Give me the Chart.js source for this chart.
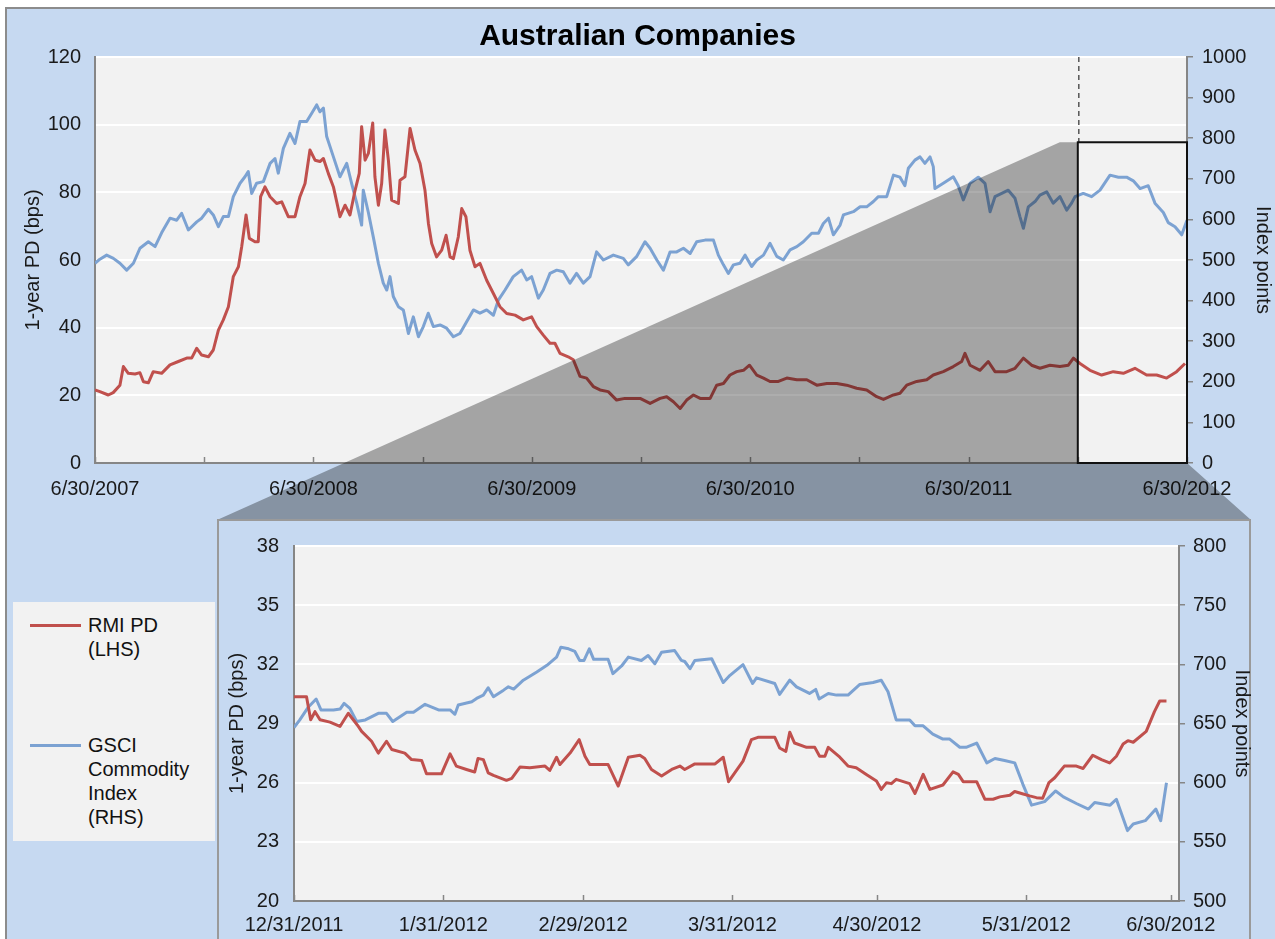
<!DOCTYPE html>
<html>
<head>
<meta charset="utf-8">
<script src="https://cdn.jsdelivr.net/npm/chart.js@4/dist/chart.umd.min.js"></script>
<style>
body { margin: 0; width: 1275px; height: 939px; overflow: hidden; background: #fff; font-family: "Liberation Sans", Arial, sans-serif; }
#mainCanvas { position: absolute; left: 0; top: 0; }
#chartTitle { position: absolute; left: 0; top: 17px; width: 1275px; text-align: center; font-weight: bold; font-size: 30px; line-height: 36px; color: #000; z-index: 2; }
#legendBox { position: absolute; left: 13px; top: 602px; width: 202px; height: 239px; background: #f2f2f2; z-index: 2; }
.legLine { position: absolute; left: 17px; width: 51px; height: 3px; }
.legText { position: absolute; left: 75px; font-size: 20px; line-height: 24px; color: #111; white-space: nowrap; }
#insetFrame { position: absolute; left: 217px; top: 519px; width: 1034px; height: 440px; box-sizing: border-box; background: #c6d9f1; border: 2px solid #9a9a9a; z-index: 3; }
#insetCanvas { position: absolute; left: 217px; top: 519px; z-index: 4; }
</style>
</head>
<body>
<canvas id="mainCanvas" width="1275" height="939"></canvas>
<div id="chartTitle">Australian Companies</div>
<div id="legendBox">
  <div class="legLine" style="top:22px;background:#c0504d"></div>
  <div class="legText" style="top:11px">RMI PD<br>(LHS)</div>
  <div class="legLine" style="top:142px;background:#7ca2d2"></div>
  <div class="legText" style="top:131px">GSCI<br>Commodity<br>Index<br>(RHS)</div>
</div>
<div id="insetFrame"></div>
<canvas id="insetCanvas" width="1058" height="420"></canvas>
<script>
// main chart: x = months after 6/30/2007
const topTickMonths = [0, 6, 12, 18, 24, 30, 36, 42, 48, 54, 60];
const topTickLabels = ['6/30/2007', '6/30/2008', '6/30/2009', '6/30/2010', '6/30/2011', '6/30/2012'];

// RMI PD, 1-year PD in bps (left axis)
const pdMonths = [0, 0.27, 0.73, 1.0, 1.37, 1.56, 1.83, 2.2, 2.47, 2.66, 2.93, 3.2, 3.66, 4.12, 4.58, 5.04, 5.31, 5.59, 5.86, 6.23,
  6.5, 6.78, 7.05, 7.33, 7.6, 7.88, 8.06, 8.3, 8.48, 8.79, 8.97, 9.1, 9.34, 9.62, 9.98, 10.26, 10.62, 10.99, 11.26, 11.54,
  11.81, 12.09, 12.36, 12.55, 12.82, 13.1, 13.46, 13.74, 14.01, 14.29, 14.52, 14.65, 14.84, 15.02, 15.26, 15.38, 15.57, 15.75, 15.93, 16.12,
  16.3, 16.67, 16.76, 17.03, 17.31, 17.58, 17.86, 18.13, 18.32, 18.5, 18.77, 19.05, 19.29, 19.51, 19.69, 19.96, 20.15, 20.38, 20.6, 20.88,
  21.15, 21.52, 21.89, 22.25, 22.62, 23.08, 23.53, 23.99, 24.27, 24.63, 25.0, 25.27, 25.55, 26.0, 26.28, 26.65, 27.01, 27.38, 27.75, 28.2,
  28.66, 29.12, 29.4, 29.95, 30.5, 31.05, 31.41, 31.78, 32.15, 32.51, 32.88, 33.25, 33.8, 34.16, 34.53, 34.89, 35.26, 35.63, 35.96, 36.36,
  36.73, 37.09, 37.55, 38.01, 38.56, 39.11, 39.66, 40.21, 40.76, 41.3, 41.85, 42.4, 42.95, 43.32, 43.87, 44.23, 44.6, 45.15, 45.7, 46.06,
  46.61, 47.16, 47.62, 47.8, 48.08, 48.63, 49.08, 49.45, 50.09, 50.55, 51.01, 51.46, 51.92, 52.47, 53.02, 53.48, 53.76, 54.12, 54.67, 55.31,
  55.95, 56.5, 57.14, 57.78, 58.33, 58.88, 59.43, 59.89];
const pdValues = [21.6, 21.1, 20.1, 20.8, 23.0, 28.5, 26.5, 26.3, 26.7, 24.0, 23.7, 27.0, 26.5, 29.0, 30.0, 31.0, 31.0, 33.9, 31.9, 31.4,
  33.4, 39.3, 42.3, 46.2, 55.1, 58.0, 63.9, 73.3, 66.4, 65.4, 65.4, 78.7, 81.6, 78.7, 76.7, 77.2, 72.8, 72.8, 78.7, 82.6,
  92.5, 89.5, 89.1, 90.0, 85.6, 81.6, 72.8, 76.2, 73.3, 80.6, 85.6, 99.4, 89.5, 91.5, 100.5, 84.6, 76.2, 82.6, 98.4, 89.5,
  77.7, 76.7, 83.6, 84.6, 98.9, 92.5, 88.5, 80.6, 70.8, 64.9, 60.9, 62.9, 67.3, 60.9, 60.4, 66.8, 75.2, 72.8, 62.9, 58.0,
  59.0, 54.0, 50.1, 46.2, 44.2, 43.7, 42.3, 43.2, 40.3, 37.8, 35.4, 35.4, 32.4, 31.4, 30.5, 25.6, 25.1, 22.6, 21.6, 21.1,
  18.6, 19.1, 19.1, 19.1, 17.6, 19.1, 19.6, 18.1, 16.1, 18.6, 20.1, 19.1, 19.1, 23.0, 23.5, 26.0, 27.0, 27.4, 28.9, 26.0,
  25.1, 24.1, 24.1, 25.1, 24.6, 24.6, 23.0, 23.5, 23.5, 23.0, 22.1, 21.6, 19.6, 18.8, 20.1, 20.6, 23.0, 24.1, 24.6, 26.0,
  27.0, 28.5, 30.0, 32.4, 28.9, 27.4, 30.0, 27.0, 27.0, 28.0, 31.0, 28.9, 28.0, 28.9, 28.5, 28.9, 31.0, 29.4, 27.4, 26.0,
  27.0, 26.5, 28.0, 26.0, 26.0, 25.1, 27.0, 29.4];

// GSCI Commodity Index, index points (right axis)
const gsciMonths = [0, 0.27, 0.64, 1.01, 1.37, 1.74, 2.11, 2.47, 2.93, 3.3, 3.66, 4.12, 4.49, 4.76, 5.13, 5.59, 5.86, 6.23, 6.5, 6.78,
  7.05, 7.33, 7.6, 7.97, 8.24, 8.42, 8.61, 8.88, 9.25, 9.62, 9.89, 10.07, 10.35, 10.71, 10.99, 11.26, 11.63, 11.9, 12.18, 12.36,
  12.55, 12.73, 13.1, 13.46, 13.83, 14.1, 14.38, 14.65, 14.74, 15.02, 15.29, 15.57, 15.84, 16.03, 16.21, 16.39, 16.67, 16.94, 17.22, 17.49,
  17.77, 18.04, 18.31, 18.59, 18.96, 19.32, 19.69, 20.05, 20.42, 20.79, 21.15, 21.52, 21.89, 22.16, 22.53, 22.98, 23.44, 23.72, 23.99, 24.36,
  24.63, 25.0, 25.37, 25.73, 26.1, 26.46, 26.83, 27.2, 27.56, 27.93, 28.48, 29.03, 29.3, 29.77, 30.22, 30.5, 30.87, 31.23, 31.6, 31.96,
  32.33, 32.7, 33.06, 33.52, 33.98, 34.25, 34.53, 34.8, 35.08, 35.44, 35.72, 36.08, 36.36, 36.73, 37.09, 37.46, 37.82, 38.19, 38.56, 38.92,
  39.38, 39.75, 40.02, 40.3, 40.57, 40.94, 41.12, 41.67, 42.04, 42.4, 42.77, 43.04, 43.5, 43.87, 44.23, 44.5, 44.69, 45.05, 45.33, 45.6,
  45.88, 46.06, 46.15, 46.61, 47.16, 47.43, 47.71, 48.08, 48.53, 48.9, 49.18, 49.45, 49.82, 50.18, 50.55, 50.82, 51.01, 51.28, 51.65, 51.92,
  52.29, 52.65, 53.02, 53.39, 53.66, 53.85, 54.3, 54.76, 55.22, 55.77, 56.23, 56.68, 57.05, 57.42, 57.87, 58.24, 58.7, 58.97, 59.34, 59.71, 60.0];
const gsciValues = [492, 502, 512, 504, 492, 475, 492, 529, 545, 533, 567, 603, 598, 615, 574, 594, 603, 625, 611, 582,
  607, 607, 656, 689, 705, 718, 664, 689, 693, 738, 750, 714, 775, 812, 787, 841, 841, 861, 882, 865,
  874, 804, 754, 705, 738, 689, 640, 586, 672, 617, 557, 492, 443, 426, 459, 410, 385, 377, 319, 360,
  311, 336, 369, 336, 340, 332, 311, 319, 348, 377, 369, 377, 364, 401, 426, 459, 475, 451, 459, 406,
  426, 467, 475, 471, 443, 467, 443, 459, 520, 500, 512, 504, 488, 509, 545, 529, 500, 475, 520, 520,
  529, 516, 545, 549, 549, 512, 488, 467, 488, 492, 512, 484, 500, 512, 541, 509, 500, 525, 533, 545,
  566, 566, 590, 603, 562, 586, 611, 619, 631, 631, 644, 656, 656, 709, 704, 683, 726, 746, 754, 738,
  754, 730, 676, 689, 705, 683, 648, 689, 704, 689, 619, 656, 664, 672, 652, 607, 578, 631, 644, 660,
  668, 640, 656, 623, 640, 656, 664, 656, 672, 709, 704, 704, 695, 676, 683, 640, 617, 592, 582, 562, 598];

// zoomed window shown in the inset
const zoomStartMonth = 54;
const zoomEndMonth = 60;
const zoomTopIndex = 790;

// inset chart: x = days after 12/31/2011
const insetTickDays = [0, 31, 60, 91, 121, 152, 182];
const insetTickLabels = ['12/31/2011', '1/31/2012', '2/29/2012', '3/31/2012', '4/30/2012', '5/31/2012', '6/30/2012'];

const insetPdDays = [0, 2.6, 3.46, 4.36, 5.4, 7.47, 9.54, 11.27, 12.3, 13.35, 14.04, 16.1, 17.5, 19.2, 20.3, 23.0, 24.4, 26.5, 27.5, 30.6,
  32.4, 33.7, 35.8, 37.5, 38.2, 39.3, 40.3, 41.4, 44.1, 45.2, 46.9, 48.96, 52.1, 53.1, 54.5, 55.2, 57.3, 59.2, 60.4, 61.4,
  65.2, 67.3, 69.4, 71.8, 72.8, 74.2, 76.3, 78.4, 80.1, 81.1, 83.2, 87.4, 89.1, 90.2, 93.2, 94.95, 96.3, 99.8, 100.8, 102.1,
  102.9, 103.9, 106.4, 108.1, 109.1, 110.2, 110.9, 113.3, 115.0, 116.7, 118.8, 120.9, 121.9, 123.0, 124.0, 125.0, 127.8, 128.9, 130.6, 132.0,
  134.7, 136.8, 137.9, 138.9, 141.7, 143.4, 145.1, 146.5, 148.6, 149.6, 151.0, 152.7, 154.1, 155.4, 156.7, 157.9, 159.9, 162.4, 163.8, 165.8,
  167.6, 169.3, 170.7, 172.1, 173.1, 174.2, 176.9, 178.6, 179.7, 181.1];
const insetPdValues = [30.36, 30.36, 29.19, 29.6, 29.19, 29.07, 28.85, 29.52, 29.19, 28.85, 28.6, 28.1, 27.5, 28.1, 27.68, 27.5, 27.17, 27.12, 26.45, 26.45,
  27.46, 26.84, 26.67, 26.54, 27.23, 27.17, 26.5, 26.37, 26.12, 26.22, 26.79, 26.76, 26.84, 26.62, 27.29, 26.92, 27.5, 28.18, 27.34, 26.92,
  26.92, 25.83, 27.29, 27.39, 27.23, 26.67, 26.34, 26.67, 26.84, 26.67, 26.95, 26.95, 27.29, 26.05, 27.09, 28.18, 28.3, 28.3, 27.76, 27.59,
  28.56, 28.01, 27.79, 27.79, 27.34, 27.34, 27.79, 27.29, 26.84, 26.76, 26.42, 26.08, 25.66, 26.0, 25.95, 26.17, 25.95, 25.45, 26.42, 25.66,
  25.88, 26.55, 26.42, 26.05, 26.05, 25.16, 25.16, 25.28, 25.36, 25.55, 25.45, 25.33, 25.24, 25.21, 26.0, 26.25, 26.84, 26.84, 26.72, 27.39,
  27.17, 27.0, 27.34, 27.96, 28.13, 28.05, 28.6, 29.6, 30.14, 30.14];

const insetGsciDays = [0, 1.2, 3.0, 4.6, 5.6, 8.2, 9.6, 10.4, 11.6, 13.0, 14.8, 17.5, 19.2, 20.5, 23.4, 24.8, 27.2, 30.0, 32.4, 33.4,
  34.1, 36.9, 37.9, 39.3, 40.3, 41.4, 43.5, 44.5, 45.6, 47.6, 50.4, 52.5, 54.5, 55.4, 57.0, 58.3, 59.3, 60.2, 61.3, 62.2,
  65.2, 66.2, 68.0, 69.4, 72.1, 73.5, 74.9, 76.3, 79.0, 80.4, 81.1, 82.2, 83.2, 86.7, 89.1, 90.5, 93.2, 95.2, 96.0, 99.8,
  100.8, 102.9, 104.3, 107.0, 108.3, 109.0, 110.9, 112.6, 115.0, 117.4, 120.2, 121.9, 123.3, 125.0, 127.8, 128.9, 130.6, 132.6, 134.7, 136.1,
  138.2, 139.5, 141.7, 143.8, 145.5, 147.5, 149.6, 151.3, 153.1, 155.8, 158.1, 159.7, 162.4, 164.9, 166.2, 169.4, 170.7, 173.0, 174.2, 176.7,
  178.9, 179.9, 181.1];
const insetGsciValues = [646.6, 653, 664, 670.7, 661.5, 661.5, 662.3, 667, 662.8, 651.7, 653, 658.6, 658.6, 651.7, 659.5, 659.5, 666.2, 661.5, 661.5, 657.8,
  665.6, 668.4, 671.2, 674, 680.2, 672.6, 678.2, 681, 679.1, 686.6, 693.6, 699.2, 706.1, 714.5, 713.1, 710.9, 703.3, 703.3, 713.1, 704.2,
  704.2, 692.1, 698.6, 706.1, 703.3, 707.5, 700.5, 710.3, 711.7, 703.3, 702.4, 696.3, 703.3, 704.7, 684.6, 690.7, 699.7, 683.8, 688.6, 683.8,
  674.6, 686.6, 681, 675.4, 678.8, 670.7, 675.4, 674, 674, 682.9, 684.6, 686.6, 676.8, 653, 653, 648, 648, 641, 636.8, 636.8,
  629.9, 629.9, 633.5, 616.7, 620.4, 618.7, 616.7, 598.6, 581, 584, 593, 588, 582.4, 577.7, 583.2, 581, 586, 559.5, 565.1, 567.9,
  577.7, 567.9, 600];

const redColor = '#c0504d';
const blueColor = '#7ca2d2';
const axisGray = '#868686';
const textColor = '#1a1a1a';
const plotBg = '#f2f2f2';
const fontFamily = '"Liberation Sans", Arial, sans-serif';
const labelFont = { family: fontFamily, size: 20 };

function pairs(xs, ys) {
  return xs.map((x, i) => ({ x: x, y: ys[i] }));
}

function plainNumber(v) {
  return String(v);
}

function drawInwardTicks(chart) {
  const sx = chart.scales.x;
  const ctx = chart.ctx;
  const bottom = chart.chartArea.bottom;
  ctx.save();
  ctx.strokeStyle = axisGray;
  ctx.lineWidth = 1.5;
  sx.ticks.forEach(t => {
    const px = Math.round(sx.getPixelForValue(t.value)) + 0.5;
    ctx.beginPath();
    ctx.moveTo(px, bottom);
    ctx.lineTo(px, bottom - 6);
    ctx.stroke();
  });
  ctx.restore();
}

function fillPlotArea(chart) {
  const a = chart.chartArea;
  chart.ctx.save();
  chart.ctx.fillStyle = plotBg;
  chart.ctx.fillRect(a.left, a.top, a.right - a.left, a.bottom - a.top);
  chart.ctx.restore();
}

const mainPlugin = {
  id: 'mainPlugin',
  beforeDraw(chart) {
    const ctx = chart.ctx;
    ctx.save();
    ctx.fillStyle = '#ffffff';
    ctx.fillRect(0, 0, chart.width, chart.height);
    ctx.fillStyle = '#c6d9f1';
    ctx.fillRect(6, 8, chart.width, chart.height);
    ctx.strokeStyle = '#8c8c8c';
    ctx.lineWidth = 2;
    ctx.strokeRect(6, 8, chart.width + 10, chart.height + 10);
    ctx.restore();
    fillPlotArea(chart);
  },
  afterDraw(chart) {
    const ctx = chart.ctx;
    const sx = chart.scales.x;
    const sy2 = chart.scales.y2;
    const area = chart.chartArea;
    drawInwardTicks(chart);

    const boxLeft = sx.getPixelForValue(zoomStartMonth);
    const boxRight = sx.getPixelForValue(zoomEndMonth);
    const boxTop = sy2.getPixelForValue(zoomTopIndex);
    const boxBottom = area.bottom;

    // zoom funnel towards the inset frame
    const frame = document.getElementById('insetFrame');
    const fl = frame.offsetLeft, ft = frame.offsetTop + 1, fr = frame.offsetLeft + frame.offsetWidth;
    ctx.save();
    ctx.globalCompositeOperation = 'multiply';
    ctx.fillStyle = '#adadad';
    ctx.beginPath();
    ctx.moveTo(fl, ft);
    ctx.lineTo(boxLeft - 18, boxTop);
    ctx.lineTo(boxLeft, boxTop);
    ctx.lineTo(boxLeft, boxBottom);
    ctx.lineTo(boxRight, boxBottom);
    ctx.lineTo(fr, ft);
    ctx.closePath();
    ctx.fill();
    ctx.restore();

    // dashed marker and zoom box
    ctx.save();
    ctx.strokeStyle = '#555555';
    ctx.lineWidth = 1.5;
    ctx.setLineDash([5, 4]);
    ctx.beginPath();
    ctx.moveTo(boxLeft + 1, area.top);
    ctx.lineTo(boxLeft + 1, boxTop);
    ctx.stroke();
    ctx.setLineDash([]);
    ctx.strokeStyle = '#111111';
    ctx.lineWidth = 2;
    ctx.strokeRect(boxLeft, boxTop, boxRight - boxLeft, boxBottom - boxTop);
    ctx.restore();
  }
};

const insetPlugin = {
  id: 'insetPlugin',
  beforeDraw(chart) { fillPlotArea(chart); },
  afterDraw(chart) { drawInwardTicks(chart); }
};

new Chart(document.getElementById('mainCanvas'), {
  type: 'line',
  data: {
    datasets: [{
      label: 'RMI PD (LHS)',
      data: pairs(pdMonths, pdValues),
      yAxisID: 'y',
      borderColor: redColor,
      borderWidth: 3,
      pointRadius: 0
    }, {
      label: 'GSCI Commodity Index (RHS)',
      data: pairs(gsciMonths, gsciValues),
      yAxisID: 'y2',
      borderColor: blueColor,
      borderWidth: 3,
      pointRadius: 0
    }]
  },
  options: {
    responsive: false,
    animation: false,
    layout: { autoPadding: false, padding: { top: 57, left: 0, right: 0, bottom: 0 } },
    plugins: { legend: { display: false }, tooltip: { enabled: false } },
    elements: { line: { tension: 0, borderJoinStyle: 'round' } },
    scales: {
      x: {
        type: 'linear', min: 0, max: 60,
        grid: { display: false, drawTicks: false },
        border: { color: axisGray, width: 2 },
        afterBuildTicks: s => { s.ticks = topTickMonths.map(v => ({ value: v })); },
        ticks: {
          autoSkip: false, maxRotation: 0, padding: 14, color: textColor, font: labelFont,
          callback: v => (v % 12 === 0 ? topTickLabels[v / 12] : '')
        },
        afterFit: s => { s.height = 476; }
      },
      y: {
        position: 'left', min: 0, max: 120,
        grid: { color: '#ffffff', lineWidth: 2, drawTicks: false },
        border: { color: axisGray, width: 2 },
        ticks: { stepSize: 20, padding: 14, color: textColor, font: labelFont, callback: plainNumber },
        title: { display: true, text: '1-year PD (bps)', color: textColor, font: labelFont, padding: { top: 21, bottom: 0 } },
        afterFit: s => { s.width = 95; }
      },
      y2: {
        position: 'right', min: 0, max: 1000,
        grid: { drawOnChartArea: false, color: axisGray, lineWidth: 1.5, tickLength: 6 },
        border: { color: axisGray, width: 2 },
        ticks: { stepSize: 100, padding: 9, color: textColor, font: labelFont, callback: plainNumber },
        title: { display: true, text: 'Index points', color: textColor, font: labelFont, padding: { top: 0, bottom: 0 } },
        afterFit: s => { s.width = 88; }
      }
    }
  },
  plugins: [mainPlugin]
});

new Chart(document.getElementById('insetCanvas'), {
  type: 'line',
  data: {
    datasets: [{
      label: 'RMI PD (LHS)',
      data: pairs(insetPdDays, insetPdValues),
      yAxisID: 'y',
      borderColor: redColor,
      borderWidth: 3,
      pointRadius: 0
    }, {
      label: 'GSCI Commodity Index (RHS)',
      data: pairs(insetGsciDays, insetGsciValues),
      yAxisID: 'y2',
      borderColor: blueColor,
      borderWidth: 3,
      pointRadius: 0
    }]
  },
  options: {
    responsive: false,
    animation: false,
    layout: { autoPadding: false, padding: { top: 24, left: 0, right: 0, bottom: 0 } },
    plugins: { legend: { display: false }, tooltip: { enabled: false } },
    elements: { line: { tension: 0, borderJoinStyle: 'round' } },
    scales: {
      x: {
        type: 'linear', min: 0, max: 183.7,
        grid: { display: false, drawTicks: false },
        border: { color: axisGray, width: 2 },
        afterBuildTicks: s => { s.ticks = insetTickDays.map(v => ({ value: v })); },
        ticks: {
          autoSkip: false, maxRotation: 0, padding: 12, color: textColor, font: labelFont,
          callback: (v, i) => insetTickLabels[i]
        },
        afterFit: s => { s.height = 38; }
      },
      y: {
        position: 'left', min: 20, max: 38,
        grid: { color: '#ffffff', lineWidth: 2, drawTicks: false },
        border: { color: axisGray, width: 2 },
        ticks: { stepSize: 3, padding: 15, color: textColor, font: labelFont, callback: plainNumber },
        title: { display: true, text: '1-year PD (bps)', color: textColor, font: labelFont, padding: { top: 8, bottom: 0 } },
        afterFit: s => { s.width = 77; }
      },
      y2: {
        position: 'right', min: 500, max: 800,
        grid: { drawOnChartArea: false, color: axisGray, lineWidth: 1.5, tickLength: 6 },
        border: { color: axisGray, width: 2 },
        ticks: { stepSize: 50, padding: 8, color: textColor, font: labelFont, callback: plainNumber },
        title: { display: true, text: 'Index points', color: textColor, font: labelFont, padding: { top: 21, bottom: 0 } },
        afterFit: s => { s.width = 96; }
      }
    }
  },
  plugins: [insetPlugin]
});
</script>
</body>
</html>
